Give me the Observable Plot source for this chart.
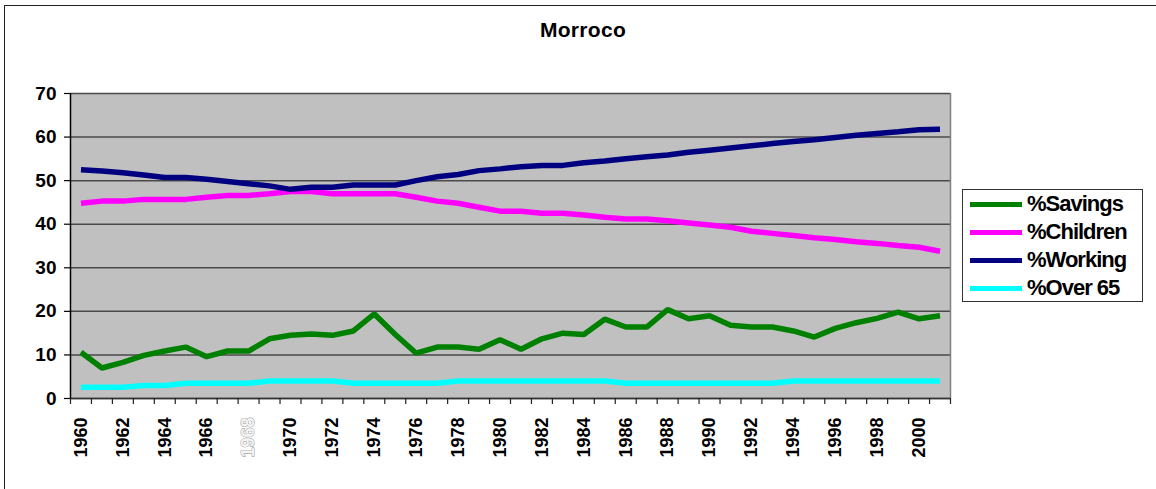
<!DOCTYPE html>
<html>
<head>
<meta charset="utf-8">
<script src="https://cdn.jsdelivr.net/npm/d3@7"></script>
<script src="https://cdn.jsdelivr.net/npm/@observablehq/plot@0.6"></script>
<style>
  html, body { margin: 0; padding: 0; background: #fff; }
  #wrap { position: relative; width: 1156px; height: 489px; overflow: hidden; font-family: "Liberation Sans", Arial, sans-serif; }
  #frame { position: absolute; left: 4px; top: 5px; width: 1170px; height: 500px; border: 1.5px solid #222; box-sizing: border-box; }
  #title { position: absolute; left: 0; width: 1166px; top: 18px; text-align: center; font-weight: bold; font-size: 21px; letter-spacing: 0.3px; color: #000; }
  #chart { position: absolute; left: 0; top: 0; }
  #legend { position: absolute; left: 962px; top: 189px; width: 181px; height: 113px; border: 1.5px solid #333; box-sizing: border-box; background: #fff; }
  .row { position: absolute; left: 0; height: 28px; width: 100%; }
  .sw { position: absolute; left: 7px; width: 52px; height: 5px; top: 12px; }
  .lab { position: absolute; left: 64px; top: 1px; font-weight: bold; font-size: 22px; letter-spacing: -1px; line-height: 26px; color: #000; white-space: nowrap; }
</style>
</head>
<body>
<div id="wrap">
  <div id="frame"></div>
  <div id="chart"></div>
  <div id="title"></div>
  <div id="legend"></div>
</div>
<script>
const chartTitle = "Morroco";
const years = [1960,1961,1962,1963,1964,1965,1966,1967,1968,1969,1970,1971,1972,1973,1974,1975,1976,1977,1978,1979,1980,1981,1982,1983,1984,1985,1986,1987,1988,1989,1990,1991,1992,1993,1994,1995,1996,1997,1998,1999,2000,2001];
const savings = [10.6,7.0,8.3,9.9,10.9,11.8,9.6,10.9,10.9,13.7,14.5,14.8,14.5,15.5,19.4,14.7,10.4,11.8,11.8,11.3,13.5,11.3,13.7,15.0,14.7,18.2,16.4,16.4,20.4,18.3,19.0,16.8,16.4,16.4,15.5,14.1,16.1,17.4,18.4,19.8,18.3,19.0];
const children = [44.8,45.3,45.3,45.7,45.7,45.7,46.2,46.6,46.6,47.0,47.5,47.5,47.0,47.0,47.0,47.0,46.2,45.3,44.8,43.9,43.0,43.0,42.5,42.5,42.1,41.6,41.2,41.2,40.8,40.3,39.8,39.3,38.4,37.9,37.4,36.9,36.5,36.0,35.6,35.1,34.7,33.8];
const working = [52.5,52.2,51.8,51.3,50.7,50.7,50.3,49.8,49.3,48.8,48.0,48.5,48.5,49.0,49.0,49.0,50.0,50.9,51.4,52.3,52.7,53.2,53.5,53.5,54.1,54.5,55.0,55.5,55.9,56.5,57.0,57.5,58.0,58.5,59.0,59.4,59.9,60.4,60.8,61.2,61.7,61.8];
const over65 = [2.6,2.6,2.6,3.0,3.0,3.5,3.5,3.5,3.5,4.0,4.0,4.0,4.0,3.5,3.5,3.5,3.5,3.5,4.0,4.0,4.0,4.0,4.0,4.0,4.0,4.0,3.5,3.5,3.5,3.5,3.5,3.5,3.5,3.5,4.0,4.0,4.0,4.0,4.0,4.0,4.0,4.0];
const seriesNames = ["%Savings","%Children","%Working","%Over 65"];
const seriesColors = ["#008000","#ff00ff","#000080","#00ffff"];
const seriesValues = [savings, children, working, over65];
const yTicks = [0,10,20,30,40,50,60,70];
const xLabelYears = [1960,1962,1964,1966,1970,1972,1974,1976,1978,1980,1982,1984,1986,1988,1990,1992,1994,1996,1998,2000];
const xFadedYears = [1968];

const xMin = years[0] - 0.5, xMax = years[years.length - 1] + 0.5;
const boundaries = [...years.map(y => y - 0.5), xMax];

document.getElementById("title").textContent = chartTitle;

const marks = [
  Plot.frame({fill: "#c0c0c0", stroke: null}),
  Plot.gridY(yTicks, {stroke: "#4a4a4a", strokeOpacity: 1, strokeWidth: 1.5}),
  Plot.ruleX([xMax], {stroke: "#808080", strokeWidth: 1.5}),
  ...seriesValues.map((vals, i) => Plot.lineY(vals, {x: years, stroke: seriesColors[i], strokeWidth: 5.5, strokeLinejoin: "miter", strokeLinecap: "butt"})),
  Plot.ruleY([0], {stroke: "#333", strokeWidth: 1.5}),
  Plot.ruleX([xMin], {stroke: "#000", strokeWidth: 1.5}),
  Plot.axisY(yTicks, {tickSize: 6, tickPadding: 8, fontSize: 19, fontWeight: "bold", stroke: "#000", strokeWidth: 1.2}),
  Plot.axisX(boundaries, {tickSize: 6, tickFormat: () => "", stroke: "#222", strokeWidth: 1.2}),
  Plot.axisX(xLabelYears, {tickSize: 0, tickPadding: 19, tickRotate: -90, fontSize: 18, fontWeight: "bold", fill: "#000", tickFormat: d => String(d)}),
  Plot.text(xFadedYears, {x: d => d, text: d => String(d), frameAnchor: "bottom", dy: 19, rotate: -90, textAnchor: "end", lineAnchor: "middle", fontSize: 18, fontWeight: "bold", fill: "#f4f4f4", stroke: "#8c8c8c", strokeWidth: 0.9})
];

const svg = Plot.plot({
  width: 1156,
  height: 489,
  marginLeft: 70,
  marginRight: 206,
  marginTop: 93,
  marginBottom: 91,
  style: {fontFamily: "'Liberation Sans', Arial, sans-serif", background: "transparent", overflow: "visible"},
  x: {domain: [xMin, xMax], label: null},
  y: {domain: [0, 70], label: null},
  marks
});
document.getElementById("chart").appendChild(svg);

const legend = document.getElementById("legend");
seriesNames.forEach((name, i) => {
  const row = document.createElement("div");
  row.className = "row";
  row.style.top = (i * 28) + "px";
  const sw = document.createElement("div");
  sw.className = "sw";
  sw.style.background = seriesColors[i];
  const lab = document.createElement("div");
  lab.className = "lab";
  lab.textContent = name;
  row.appendChild(sw);
  row.appendChild(lab);
  legend.appendChild(row);
});
</script>
</body>
</html>
